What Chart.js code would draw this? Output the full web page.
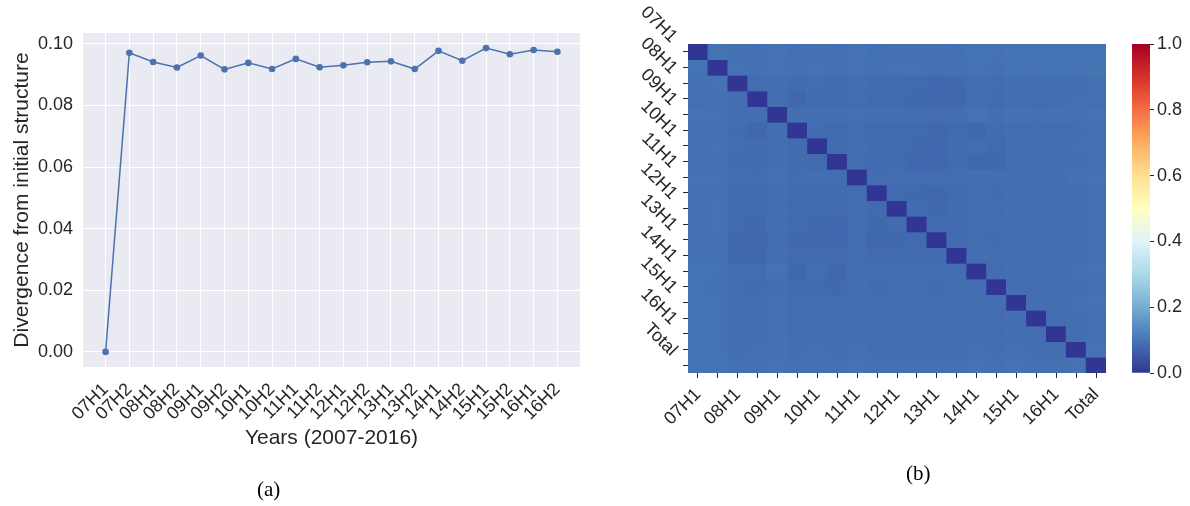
<!DOCTYPE html>
<html>
<head>
<meta charset="utf-8">
<script src="https://cdn.jsdelivr.net/npm/chart.js@4"></script>
<style>
  html, body { margin: 0; padding: 0; background: #fff; }
  #wrap { position: relative; width: 1190px; height: 506px; overflow: hidden; }
  canvas { position: absolute; top: 0; }
  .cap { position: absolute; font-family: "Liberation Serif", "DejaVu Serif", serif; font-size: 21px; color: #000; }
</style>
</head>
<body>
<div id="wrap">
  <canvas id="lineChart" width="600" height="506" style="left:0"></canvas>
  <canvas id="heatChart" width="520" height="506" style="left:600px"></canvas>
  <canvas id="barChart" width="70" height="506" style="left:1120px"></canvas>
  <div class="cap" style="left:257px; top:477px">(a)</div>
  <div class="cap" style="left:906px; top:461px">(b)</div>
</div>
<script>
// --- datos ---
const periodos = ['07H1','07H2','08H1','08H2','09H1','09H2','10H1','10H2','11H1','11H2',
                  '12H1','12H2','13H1','13H2','14H1','14H2','15H1','15H2','16H1','16H2'];
const divergencia = [0.000, 0.0971, 0.0941, 0.0923, 0.0962, 0.0917, 0.0938, 0.0918, 0.0951, 0.0924,
                     0.0930, 0.0940, 0.0943, 0.0918, 0.0977, 0.0945, 0.0986, 0.0966, 0.0980, 0.0974];
const yTicks = [0.00, 0.02, 0.04, 0.06, 0.08, 0.10];

const heatLabels = periodos.concat(['Total']);
const matriz = [
  [0.000,0.097,0.094,0.092,0.096,0.092,0.094,0.092,0.095,0.092,0.093,0.094,0.094,0.092,0.098,0.095,0.099,0.097,0.098,0.097,0.099],
  [0.097,0.000,0.095,0.094,0.096,0.093,0.095,0.094,0.096,0.094,0.095,0.095,0.094,0.093,0.096,0.094,0.097,0.096,0.097,0.096,0.098],
  [0.094,0.095,0.000,0.088,0.090,0.086,0.087,0.086,0.089,0.086,0.085,0.084,0.080,0.082,0.088,0.087,0.090,0.088,0.089,0.091,0.094],
  [0.092,0.094,0.088,0.000,0.089,0.079,0.085,0.083,0.088,0.084,0.084,0.082,0.078,0.079,0.087,0.086,0.089,0.088,0.089,0.092,0.092],
  [0.096,0.096,0.090,0.089,0.000,0.089,0.090,0.089,0.092,0.089,0.090,0.089,0.088,0.090,0.095,0.091,0.094,0.092,0.093,0.094,0.096],
  [0.092,0.093,0.086,0.079,0.089,0.000,0.085,0.083,0.088,0.083,0.084,0.083,0.079,0.083,0.080,0.086,0.088,0.087,0.087,0.091,0.093],
  [0.094,0.095,0.087,0.085,0.090,0.085,0.000,0.084,0.089,0.085,0.085,0.081,0.080,0.085,0.087,0.084,0.089,0.089,0.089,0.092,0.094],
  [0.092,0.094,0.086,0.083,0.089,0.083,0.084,0.000,0.088,0.083,0.084,0.080,0.079,0.084,0.080,0.081,0.088,0.088,0.088,0.091,0.093],
  [0.095,0.096,0.089,0.088,0.092,0.088,0.089,0.088,0.000,0.088,0.088,0.088,0.087,0.088,0.090,0.089,0.091,0.091,0.091,0.093,0.096],
  [0.092,0.094,0.086,0.084,0.089,0.083,0.085,0.083,0.088,0.000,0.084,0.082,0.079,0.084,0.087,0.086,0.088,0.088,0.088,0.091,0.093],
  [0.093,0.095,0.085,0.084,0.090,0.084,0.085,0.084,0.088,0.084,0.000,0.085,0.082,0.085,0.088,0.087,0.089,0.088,0.089,0.091,0.093],
  [0.094,0.095,0.084,0.082,0.089,0.083,0.081,0.080,0.088,0.082,0.085,0.000,0.084,0.085,0.087,0.087,0.088,0.088,0.088,0.091,0.094],
  [0.094,0.094,0.080,0.078,0.088,0.079,0.080,0.079,0.087,0.079,0.082,0.084,0.000,0.086,0.087,0.086,0.088,0.088,0.088,0.091,0.093],
  [0.092,0.093,0.082,0.079,0.090,0.083,0.085,0.084,0.088,0.084,0.085,0.085,0.086,0.000,0.087,0.087,0.088,0.087,0.088,0.091,0.093],
  [0.098,0.096,0.088,0.087,0.095,0.080,0.087,0.080,0.090,0.087,0.088,0.087,0.087,0.087,0.000,0.088,0.090,0.089,0.089,0.092,0.095],
  [0.095,0.094,0.087,0.086,0.091,0.086,0.084,0.081,0.089,0.086,0.087,0.087,0.086,0.087,0.088,0.000,0.089,0.088,0.088,0.091,0.094],
  [0.099,0.097,0.090,0.089,0.094,0.088,0.089,0.088,0.091,0.088,0.089,0.088,0.088,0.088,0.090,0.089,0.000,0.089,0.089,0.092,0.096],
  [0.097,0.096,0.088,0.088,0.092,0.087,0.089,0.088,0.091,0.088,0.088,0.088,0.088,0.087,0.089,0.088,0.089,0.000,0.088,0.091,0.094],
  [0.098,0.097,0.089,0.089,0.093,0.087,0.089,0.088,0.091,0.088,0.089,0.088,0.088,0.088,0.089,0.088,0.089,0.088,0.000,0.091,0.094],
  [0.097,0.096,0.091,0.092,0.094,0.091,0.092,0.091,0.093,0.091,0.091,0.091,0.091,0.091,0.092,0.091,0.092,0.091,0.091,0.000,0.095],
  [0.099,0.098,0.094,0.092,0.096,0.093,0.094,0.093,0.096,0.093,0.093,0.094,0.093,0.093,0.095,0.094,0.096,0.094,0.094,0.095,0.000]
];
const cbarTicks = [0.0, 0.2, 0.4, 0.6, 0.8, 1.0];

// RdYlBu_r
const cmapStops = ['#313695','#4575b4','#74add1','#abd9e9','#e0f3f8','#ffffbf',
                   '#fee090','#fdae61','#f46d43','#d73027','#a50026'];

function hexRgb(h) {
  return [parseInt(h.slice(1,3),16), parseInt(h.slice(3,5),16), parseInt(h.slice(5,7),16)];
}
function cmap(v) {
  const t = Math.max(0, Math.min(1, v)) * (cmapStops.length - 1);
  const i = Math.min(cmapStops.length - 2, Math.floor(t));
  const f = t - i;
  const a = hexRgb(cmapStops[i]), b = hexRgb(cmapStops[i + 1]);
  const c = a.map((x, k) => Math.round(x + (b[k] - x) * f));
  return `rgb(${c[0]},${c[1]},${c[2]})`;
}

const TXT = '#262626';
const FONT = '"Liberation Sans", Arial, sans-serif';
Chart.defaults.font.family = FONT;
Chart.defaults.color = TXT;
Chart.defaults.animation = false;
Chart.defaults.responsive = false;
Chart.defaults.events = [];
Chart.defaults.plugins.legend.display = false;
Chart.defaults.plugins.tooltip.enabled = false;

// --- fondo estilo seaborn ---
const fondoGris = {
  id: 'fondoGris',
  beforeDraw(chart) {
    const { ctx, chartArea: a } = chart;
    ctx.save();
    ctx.fillStyle = '#eaeaf2';
    ctx.fillRect(a.left, a.top, a.right - a.left, a.bottom - a.top);
    ctx.restore();
  }
};

// --- (a) grafica de lineas ---
new Chart(document.getElementById('lineChart'), {
  type: 'line',
  data: {
    datasets: [{
      data: divergencia.map((v, i) => ({ x: i, y: v })),
      borderColor: '#4c72b0',
      backgroundColor: '#4c72b0',
      borderWidth: 1.5,
      pointRadius: 3.3,
      pointBorderWidth: 0,
      tension: 0
    }]
  },
  options: {
    layout: { padding: { left: 6, right: 20, top: 33, bottom: 53 } },
    scales: {
      x: {
        type: 'linear',
        min: -0.95, max: 19.95,
        afterBuildTicks: s => { s.ticks = periodos.map((_, i) => ({ value: i })); },
        afterFit: s => { s.height = 86; },
        grid: { color: '#ffffff', lineWidth: 1, drawTicks: false },
        border: { display: false },
        ticks: {
          autoSkip: false, minRotation: 45, maxRotation: 45, padding: 12,
          font: { size: 18 },
          callback: v => periodos[v]
        },
        title: { display: true, text: 'Years (2007-2016)', font: { size: 21 }, padding: { top: 0, bottom: 2 } }
      },
      y: {
        min: -0.0049, max: 0.1035,
        afterBuildTicks: s => { s.ticks = yTicks.map(v => ({ value: v })); },
        afterFit: s => { s.width = 77; },
        grid: { color: '#ffffff', lineWidth: 1, drawTicks: false },
        border: { display: false },
        ticks: { padding: 10, font: { size: 18 }, callback: v => v.toFixed(2) },
        title: { display: true, text: 'Divergence from initial structure', font: { size: 21 }, padding: { top: 4, bottom: 4 } }
      }
    }
  },
  plugins: [fondoGris]
});

// --- (b) mapa de calor ---
const etiquetasY = {
  id: 'etiquetasY',
  afterDraw(chart) {
    const s = chart.scales.y;
    const ctx = chart.ctx;
    ctx.save();
    ctx.font = '18px ' + FONT;
    ctx.fillStyle = TXT;
    ctx.textAlign = 'right';
    ctx.textBaseline = 'middle';
    heatLabels.forEach((lab, i) => {
      if (i % 2 !== 0) return;
      const y = s.getPixelForValue(i + 0.5);
      ctx.save();
      ctx.translate(s.right - 14, y - 12);
      ctx.rotate(Math.PI / 4);
      ctx.fillText(lab, 0, 0);
      ctx.restore();
    });
    ctx.restore();
  }
};

new Chart(document.getElementById('heatChart'), {
  type: 'bar',
  data: {
    labels: heatLabels,
    datasets: matriz.map((fila, r) => ({
      label: heatLabels[r],
      data: fila.map(() => 1),
      backgroundColor: fila.map(cmap),
      borderWidth: 0,
      barPercentage: 1,
      categoryPercentage: 1,
      stack: 'm'
    }))
  },
  options: {
    layout: { padding: { left: 28, right: 14, top: 44, bottom: 73 } },
    scales: {
      x: {
        type: 'category',
        stacked: true,
        afterFit: s => { s.height = 60; },
        grid: { offset: false, drawOnChartArea: false, drawTicks: true, tickLength: 5, tickColor: TXT, tickWidth: 1 },
        border: { display: false },
        ticks: {
          autoSkip: false, minRotation: 45, maxRotation: 45, padding: 6,
          font: { size: 18 },
          callback: (v, i) => (i % 2 === 0 ? heatLabels[i] : '')
        }
      },
      y: {
        type: 'linear',
        stacked: true,
        reverse: true,
        min: 0, max: heatLabels.length,
        afterBuildTicks: s => { s.ticks = heatLabels.map((_, i) => ({ value: i + 0.5 })); },
        afterFit: s => { s.width = 60; },
        grid: { drawOnChartArea: false, drawTicks: true, tickLength: 5, tickColor: TXT, tickWidth: 1 },
        border: { display: false },
        ticks: { display: false }
      }
    }
  },
  plugins: [etiquetasY]
});

// --- barra de color ---
new Chart(document.getElementById('barChart'), {
  type: 'bar',
  data: {
    labels: [''],
    datasets: [{
      data: [[cbarTicks[0], cbarTicks[cbarTicks.length - 1]]],
      borderWidth: 0,
      barPercentage: 1,
      categoryPercentage: 1,
      backgroundColor: c => {
        const a = c.chart.chartArea;
        if (!a) return cmapStops[0];
        const g = c.chart.ctx.createLinearGradient(0, a.bottom, 0, a.top);
        cmapStops.forEach((col, i) => g.addColorStop(i / (cmapStops.length - 1), col));
        return g;
      }
    }]
  },
  options: {
    layout: { padding: { left: 12, right: 0, top: 44, bottom: 133 } },
    scales: {
      x: { display: false },
      y: {
        position: 'right',
        min: 0, max: 1,
        afterBuildTicks: s => { s.ticks = cbarTicks.map(v => ({ value: v })); },
        afterFit: s => { s.width = 40; },
        grid: { drawOnChartArea: false, drawTicks: true, tickLength: 4, tickColor: TXT },
        border: { display: false },
        ticks: { padding: 3, font: { size: 18 }, callback: v => v.toFixed(1) }
      }
    }
  }
});
</script>
</body>
</html>
